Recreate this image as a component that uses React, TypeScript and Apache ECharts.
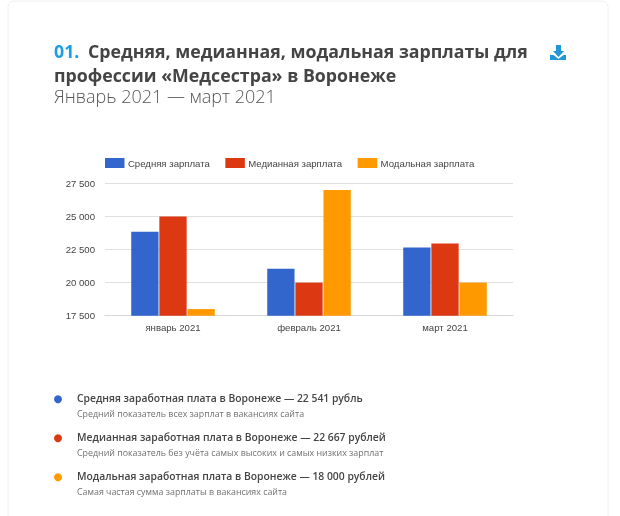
import React, { useEffect, useRef } from "react";
import * as echarts from "echarts";

const categories = ["январь 2021", "февраль 2021", "март 2021"];
const seriesNames = ["Средняя зарплата", "Медианная зарплата", "Модальная зарплата"];
const averageValues = [23850, 21050, 22650];
const medianValues = [25000, 20000, 22950];
const modalValues = [18000, 27000, 20000];
const colors = ["#3366cc", "#dc3912", "#ff9900"];
const yTicks = { min: 17500, max: 27500, interval: 2500 };

const titleNumber = "01.";
const titleLine1 = "Средняя, медианная, модальная зарплаты для";
const titleLine2 = "профессии «Медсестра» в Воронеже";
const subtitle = "Январь 2021 — март 2021";
const notes = [
  ["Средняя заработная плата в Воронеже — 22 541 рубль", "Средний показатель всех зарплат в вакансиях сайта"],
  ["Медианная заработная плата в Воронеже — 22 667 рублей", "Средний показатель без учёта самых высоких и самых низких зарплат"],
  ["Модальная заработная плата в Воронеже — 18 000 рублей", "Самая частая сумма зарплаты в вакансиях сайта"],
];

export default function App() {
  const ref = useRef<HTMLDivElement>(null);
  useEffect(() => {
    const chart = echarts.init(ref.current!, null, { renderer: "svg" });
    const font = "'Open Sans', sans-serif";
    const sans = "'Liberation Sans', Arial, sans-serif";
    const head = { fontFamily: font, fontSize: 17.75, fontWeight: 700, fill: "#444444", lineHeight: 20 };
    const noteEls: any[] = [];
    const rows = [398, 437, 476];
    notes.forEach((n, i) => {
      noteEls.push({ type: "circle", shape: { cx: 58, cy: rows[i] + 1.3, r: 4 }, style: { fill: colors[i] } });
      noteEls.push({
        type: "text", x: 77, y: rows[i],
        style: { text: n[0], fontFamily: font, fontSize: 10.35, fontWeight: 600, fill: "#444444", verticalAlign: "middle" },
      });
      noteEls.push({
        type: "text", x: 77, y: rows[i] + 15.5,
        style: { text: n[1], fontFamily: font, fontSize: 8.85, fill: "#707070", verticalAlign: "middle" },
      });
    });
    chart.setOption({
      animation: false,
      backgroundColor: "transparent",
      grid: { left: 105, right: 107, top: 183.3, height: 132.4, containLabel: false },
      legend: {
        left: 105, top: 158, padding: 0,
        itemWidth: 19.5, itemHeight: 10, itemGap: 15.5,
        icon: "rect",
        textStyle: { fontFamily: sans, fontSize: 9.6, color: "#444444", padding: [0, 0, 0, -1.6] },
        data: seriesNames,
      },
      xAxis: {
        type: "category", data: categories,
        axisTick: { show: false },
        axisLine: { lineStyle: { color: "#d6d6d6" } },
        axisLabel: { fontFamily: sans, fontSize: 9.6, color: "#444444", margin: 7 },
      },
      yAxis: {
        type: "value", ...yTicks,
        axisLine: { show: false }, axisTick: { show: false },
        splitLine: { lineStyle: { color: "#e0e0e0" } },
        axisLabel: {
          fontFamily: sans, fontSize: 9.6, color: "#444444", margin: 10,
          formatter: (v: number) => String(v).replace(/\B(?=(\d{3})+$)/g, " "),
        },
      },
      series: [averageValues, medianValues, modalValues].map((data, i) => ({
        type: "bar", name: seriesNames[i], data,
        barWidth: 27.3, barGap: "3%",
        itemStyle: { color: colors[i] },
      })),
      graphic: [
        { type: "rect", z: -10, shape: { x: 8, y: 1, width: 600, height: 540, r: 6 }, style: { fill: "#ffffff", stroke: "#f0f0f0", lineWidth: 1 } },
        { type: "text", x: 54, y: 51, style: { text: titleNumber, ...head, fill: "#1b9fe3", verticalAlign: "middle" } },
        { type: "text", x: 88, y: 51, style: { text: titleLine1, ...head, verticalAlign: "middle" } },
        { type: "text", x: 54, y: 75, style: { text: titleLine2, ...head, verticalAlign: "middle" } },
        { type: "text", x: 54, y: 96, style: { text: subtitle, fontFamily: font, fontSize: 18, fontWeight: 300, fill: "#555555", verticalAlign: "middle", lineHeight: 20 } },
        { type: "polygon", shape: { points: [[556, 45], [561, 45], [561, 51], [564, 51], [558.5, 57], [553, 51], [556, 51]] }, style: { fill: "#2196d9" } },
        { type: "polygon", shape: { points: [[550, 55], [553.5, 55], [558.5, 59], [563.5, 55], [566, 55], [566, 60], [550, 60]] }, style: { fill: "#2196d9" } },
        ...noteEls,
      ],
    });
    return () => chart.dispose();
  }, []);
  return <div ref={ref} style={{ position: "fixed", left: 0, top: 0, width: 620, height: 516 }} />;
}
